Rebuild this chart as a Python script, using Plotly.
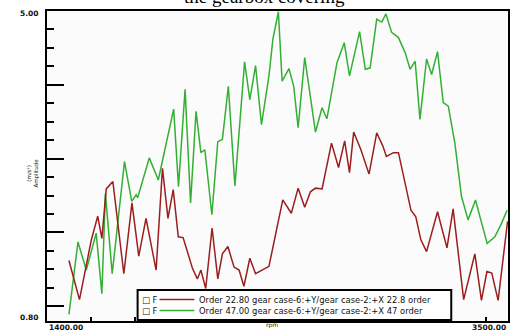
import plotly.graph_objects as go

# Order tracks of the gearbox covering acceleration vs. engine speed
green_rpm = [1500, 1541, 1579, 1624, 1650, 1666, 1697, 1753, 1786, 1806, 1813, 1866, 1907, 1949, 1977,
             1999, 2029, 2054, 2079, 2101, 2119, 2151, 2178, 2199, 2226, 2256, 2300, 2324, 2350, 2377,
             2411, 2429, 2454, 2471, 2502, 2524, 2544, 2574, 2600, 2623, 2653, 2675, 2721, 2754, 2778,
             2824, 2850, 2872, 2902, 2925, 2944, 2970, 3001, 3031, 3054, 3077, 3099, 3129, 3152, 3179,
             3205, 3228, 3258, 3288, 3318, 3352, 3376, 3405, 3440, 3470, 3496]
green_amp = [0.89, 1.87, 1.49, 1.99, 1.17, 2.53, 1.44, 2.96, 2.42, 2.51, 2.47, 3.01, 2.71, 3.30, 3.67,
             2.62, 3.94, 2.40, 3.64, 3.08, 3.12, 2.24, 3.23, 3.26, 3.98, 2.63, 4.31, 3.80, 4.26, 3.46,
             4.12, 4.62, 4.99, 4.05, 4.22, 3.98, 3.42, 4.37, 3.85, 3.36, 3.69, 3.54, 4.30, 4.57, 4.12,
             4.72, 4.21, 4.23, 4.89, 4.85, 4.96, 4.71, 4.64, 4.44, 4.21, 4.32, 3.53, 4.35, 4.14, 4.45,
             3.76, 3.71, 3.21, 2.49, 2.17, 2.44, 2.17, 1.85, 1.94, 2.12, 2.30]

red_rpm = [1500, 1548, 1602, 1631, 1650, 1670, 1700, 1750, 1787, 1818, 1851, 1897, 1926, 1951, 1975,
           1998, 2020, 2063, 2085, 2101, 2123, 2152, 2178, 2199, 2224, 2252, 2275, 2297, 2324, 2350,
           2411, 2433, 2474, 2513, 2544, 2574, 2600, 2623, 2653, 2696, 2728, 2756, 2778, 2797, 2830,
           2867, 2902, 2930, 2946, 2978, 3001, 3058, 3080, 3103, 3129, 3179, 3222, 3250, 3298, 3349,
           3379, 3404, 3426, 3455, 3498]
red_amp = [1.62, 1.09, 1.90, 2.22, 1.92, 2.59, 2.69, 1.44, 2.40, 1.68, 2.19, 1.49, 2.87, 2.19, 2.58,
           1.94, 1.93, 1.51, 1.37, 1.49, 1.24, 2.06, 1.37, 1.71, 1.81, 1.53, 1.49, 1.27, 1.65, 1.44,
           1.54, 1.87, 2.44, 2.26, 2.60, 2.34, 2.55, 2.60, 2.59, 3.21, 2.88, 3.24, 2.81, 3.36, 3.12,
           2.79, 3.35, 3.17, 3.03, 3.08, 3.08, 2.30, 2.21, 1.90, 1.74, 2.28, 1.79, 2.32, 1.09, 1.71,
           1.08, 1.47, 1.45, 1.08, 2.15]

series_names = ["Order 22.80 gear case-6:+Y/gear case-2:+X 22.8 order",
                "Order 47.00 gear case-6:+Y/gear case-2:+X 47 order"]
series_colors = ["#9a1e1e", "#33b033"]

x_range = [1400, 3500]
y_range = [0.8, 5.0]
x_tick_labels = ["1400.00", "3500.00"]
y_tick_labels = ["0.80", "5.00"]
title_text = "the gearbox covering"

W, H = 515, 335
ML, MR, MT, MB = 47, 5, 11, 14
PW, PH = W - ML - MR, H - MT - MB


def px(x):
    return (x - ML) / PW


def py(y):
    return (H - MB - y) / PH


fig = go.Figure()
fig.add_trace(go.Scatter(x=green_rpm, y=green_amp, mode="lines", name=series_names[1],
                         line=dict(color=series_colors[1], width=1.5), showlegend=False))
fig.add_trace(go.Scatter(x=red_rpm, y=red_amp, mode="lines", name=series_names[0],
                         line=dict(color=series_colors[0], width=1.5), showlegend=False))

minor_y = [1 + 0.25 * i for i in range(17) if i % 4 != 0]

fig.update_layout(
    width=W, height=H,
    margin=dict(l=ML, r=MR, t=MT, b=MB, pad=0),
    paper_bgcolor="white",
    plot_bgcolor="#fbfbfb",
    showlegend=False,
    xaxis=dict(range=x_range, showgrid=False, zeroline=False, showline=True,
               linecolor="black", linewidth=2, mirror=True,
               ticks="inside", tickvals=list(range(1600, 3500, 200)), ticklen=4,
               tickwidth=1.5, tickcolor="black", showticklabels=False),
    yaxis=dict(range=y_range, showgrid=False, zeroline=False, showline=True,
               linecolor="black", linewidth=2, mirror=True,
               ticks="inside", tickvals=[1, 2, 3, 4, 5], ticklen=17, tickwidth=1.5,
               tickcolor="black", showticklabels=False,
               minor=dict(tickvals=minor_y, ticks="inside", ticklen=7, tickwidth=1.5,
                          tickcolor="black", showgrid=False)),
)

tick_font = dict(family="DejaVu Sans", size=7.5, color="#111")
ann = []
# axis end labels
ann.append(dict(x=0, xref="paper", y=y_range[1], yref="y", text="<b>%s</b>" % y_tick_labels[1],
                xanchor="right", yanchor="middle", xshift=-6, yshift=-2, showarrow=False, font=tick_font))
ann.append(dict(x=0, xref="paper", y=y_range[0], yref="y", text="<b>%s</b>" % y_tick_labels[0],
                xanchor="right", yanchor="middle", xshift=-6, yshift=4, showarrow=False, font=tick_font))
ann.append(dict(x=x_range[0], xref="x", y=py(327), yref="paper", text="<b>%s</b>" % x_tick_labels[0],
                xanchor="left", yanchor="middle", showarrow=False, font=tick_font))
ann.append(dict(x=x_range[1], xref="x", y=py(327), yref="paper", text="<b>%s</b>" % x_tick_labels[1],
                xanchor="right", yanchor="middle", showarrow=False, font=tick_font))
ann.append(dict(x=px(273), xref="paper", y=py(325), yref="paper", text="rpm",
                xanchor="center", yanchor="middle", showarrow=False,
                font=dict(family="DejaVu Sans", size=6, color="#111")))
ann.append(dict(x=px(32.5), xref="paper", y=py(173), yref="paper", text="(m/s²)<br>Amplitude",
                textangle=-90, xanchor="center", yanchor="middle", showarrow=False,
                font=dict(family="DejaVu Sans", size=5.5, color="#111")))
# caption text partly cut by the top edge
ann.append(dict(x=px(265), xref="paper", y=py(-3), yref="paper", text=title_text,
                xanchor="center", yanchor="middle", showarrow=False,
                font=dict(family="Liberation Serif", size=19, color="black")))

# legend box drawn over the bottom of the plot area
rows = [299.5, 310.5]
shapes = [dict(type="rect", xref="paper", yref="paper", x0=px(138), x1=px(453), y0=py(320), y1=py(290),
               line=dict(color="black", width=2), fillcolor="white", layer="above")]
leg_font = dict(family="DejaVu Sans", size=8.4, color="#111")
for i, row_y in enumerate(rows):
    shapes.append(dict(type="line", xref="paper", yref="paper", x0=px(160), x1=px(195),
                       y0=py(row_y), y1=py(row_y), line=dict(color=series_colors[i], width=1.3),
                       layer="above"))
mid = sum(rows) / 2
ann.append(dict(x=px(140), xref="paper", y=py(mid), yref="paper", text="□ F<br>□ F",
                xanchor="left", yanchor="middle", align="left", showarrow=False, font=leg_font))
ann.append(dict(x=px(198), xref="paper", y=py(mid), yref="paper", text="<br>".join(series_names),
                xanchor="left", yanchor="middle", align="left", showarrow=False, font=leg_font))

fig.update_layout(annotations=ann, shapes=shapes)
fig.write_html("out.html", config={"displayModeBar": False})
